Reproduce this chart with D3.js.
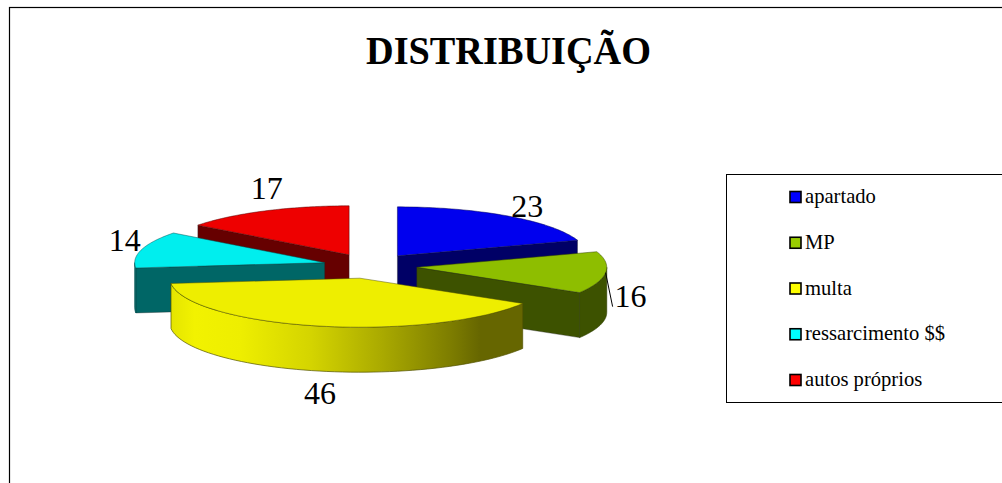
<!DOCTYPE html>
<html>
<head>
<meta charset="utf-8">
<script src="https://cdn.jsdelivr.net/npm/d3@7"></script>
<style>
  html, body { margin: 0; background: #fff; }
  svg { display: block; }
  text { font-family: "Liberation Serif", serif; fill: #000; }
</style>
</head>
<body>
<div id="chart"></div>
<script>
// data
const categories = ['apartado', 'MP', 'multa', 'ressarcimento $$', 'autos próprios']
const values = [23, 16, 46, 14, 17]
const chartTitle = 'DISTRIBUIÇÃO'

// colours, same order as categories
const legendColors = ['#0000ff', '#99cc00', '#ffff00', '#00ffff', '#ff0000']
const topColors = ['#0000ee', '#8ebe00', '#eeee00', '#00eeee', '#ee0000']
const sideColors = ['#000066', '#3d5200', '#666600', '#006666', '#660000']

// manual label nudges from the rim midpoint of each slice
const labelNudge = [[19, 1], [25, 34], [1, 78], [-17, 1], [2, -12]]

const w = 1002, h = 483
const cx = 370, cy = 266
const rx = 190, ry = 49
const depth = 45
const explode = 47
const tilt = ry / rx

const svg = d3.select('#chart').append('svg').attr('width', w).attr('height', h)

// outer frame, runs off the right and bottom of the picture
svg.append('rect').attr('x', 9.5).attr('y', 7.5).attr('width', w + 20).attr('height', h + 20)
  .attr('fill', '#fff').attr('stroke', '#000').attr('stroke-width', 1.2)

// reference title is taller than its width would give, so squeeze it
svg.append('text').text(chartTitle)
  .attr('x', 508.5).attr('y', 63.5)
  .attr('text-anchor', 'middle')
  .attr('font-size', 40.5).attr('font-weight', 'bold')
  .attr('textLength', 285).attr('lengthAdjust', 'spacingAndGlyphs')

const pie = d3.pie().sort(null).value(d => d.value)
const slices = pie(values.map((value, i) => ({value, i})))

const onRim = (a, y0 = 0) => [rx * Math.sin(a), -ry * Math.cos(a) + y0]
const arcPoints = (a0, a1, y0 = 0) => d3.range(0, 61).map(k => onRim(a0 + (a1 - a0) * k / 60, y0))
const line = d3.line()

slices.forEach(d => {
  let mid = (d.startAngle + d.endAngle) / 2
  d.mid = mid
  d.ox = cx + explode * Math.sin(mid)
  d.oy = cy - explode * tilt * Math.cos(mid) * 1.03
})

// gradient sits in the slice's own coordinates, left rim to right corner
const defs = svg.append('defs')
const wallGrad = defs.append('linearGradient').attr('id', 'wallGrad')
  .attr('gradientUnits', 'userSpaceOnUse')
  .attr('x1', -rx).attr('x2', onRim(slices[2].startAngle)[0])
  .attr('y1', 0).attr('y2', 0)
const wallStops = [[0, '#e4e400'], [0.07, '#f2f200'], [0.2, '#eeee00'], [0.4, '#d4d400'],
  [0.6, '#aaaa00'], [0.8, '#7c7c00'], [0.88, '#666600'], [1, '#666600']]
wallGrad.selectAll('stop').data(wallStops).enter().append('stop')
  .attr('offset', d => d[0]).attr('stop-color', d => d[1])

// back slices first
const drawOrder = slices.slice().sort((a, b) => Math.cos(b.mid) - Math.cos(a.mid))

const g = svg.selectAll('.slice').data(drawOrder).enter().append('g').classed('slice', true)
  .attr('transform', d => `translate(${d.ox}, ${d.oy})`)

// cut faces, only the ones turned to the viewer
g.each(function (d) {
  let el = d3.select(this)
  let side = sideColors[d.data.i]
  let edges = []
  if (Math.sin(d.startAngle) < -1e-6) edges.push(d.startAngle)
  if (Math.sin(d.endAngle) > 1e-6) edges.push(d.endAngle)
  edges.forEach(a => {
    let p = onRim(a)
    el.append('path')
      .attr('d', line([[0, 0], p, [p[0], p[1] + depth], [0, depth]]) + 'Z')
      .attr('fill', side).attr('stroke', '#222').attr('stroke-opacity', 0.5).attr('stroke-width', 0.7)
  })

  // outer wall, front half of the ellipse only
  let a0 = Math.max(d.startAngle, Math.PI / 2)
  let a1 = Math.min(d.endAngle, Math.PI * 1.5)
  if (a1 > a0) {
    let pts = arcPoints(a0, a1).concat(arcPoints(a0, a1, depth).reverse())
    el.append('path')
      .attr('d', line(pts) + 'Z')
      .attr('fill', d.data.i === 2 ? 'url(#wallGrad)' : side)
      .attr('stroke', d3.rgb(side).darker(0.6)).attr('stroke-width', 0.7)
  }

  // top
  el.append('path')
    .attr('d', line([[0, 0]].concat(arcPoints(d.startAngle, d.endAngle))) + 'Z')
    .attr('fill', topColors[d.data.i])
    .attr('stroke', d3.rgb(side).darker(0.6)).attr('stroke-opacity', 0.7).attr('stroke-width', 0.7)
})

// value labels
svg.selectAll('.label').data(slices).enter().append('text').classed('label', true)
  .text(d => d.value)
  .attr('x', d => d.ox + onRim(d.mid)[0] + labelNudge[d.data.i][0])
  .attr('y', d => d.oy + onRim(d.mid)[1] + labelNudge[d.data.i][1])
  .attr('text-anchor', 'middle').attr('font-size', 32)

// leader line of the MP label
const mp = slices[1]
svg.append('line')
  .attr('x1', mp.ox + onRim(mp.mid)[0]).attr('y1', mp.oy + onRim(mp.mid)[1])
  .attr('x2', mp.ox + onRim(mp.mid)[0] + 7).attr('y2', mp.oy + onRim(mp.mid)[1] + 34)
  .attr('stroke', '#000').attr('stroke-width', 1)

// legend
const legendY = d3.scalePoint().domain(categories).range([197, 380])
const legend = svg.append('g')
legend.append('rect').attr('x', 726.5).attr('y', 174.5).attr('width', w).attr('height', 228)
  .attr('fill', '#fff').attr('stroke', '#000').attr('stroke-width', 1)
const rows = legend.selectAll('.legend').data(categories).enter().append('g').classed('legend', true)
  .attr('transform', d => `translate(0, ${legendY(d)})`)
rows.append('rect').attr('x', 790).attr('y', -5.5).attr('width', 11).attr('height', 11)
  .attr('fill', (d, i) => legendColors[i]).attr('stroke', '#000').attr('stroke-width', 1.6)
rows.append('text').text(d => d).attr('x', 805).attr('y', 6).attr('font-size', 20.6)
</script>
</body>
</html>
